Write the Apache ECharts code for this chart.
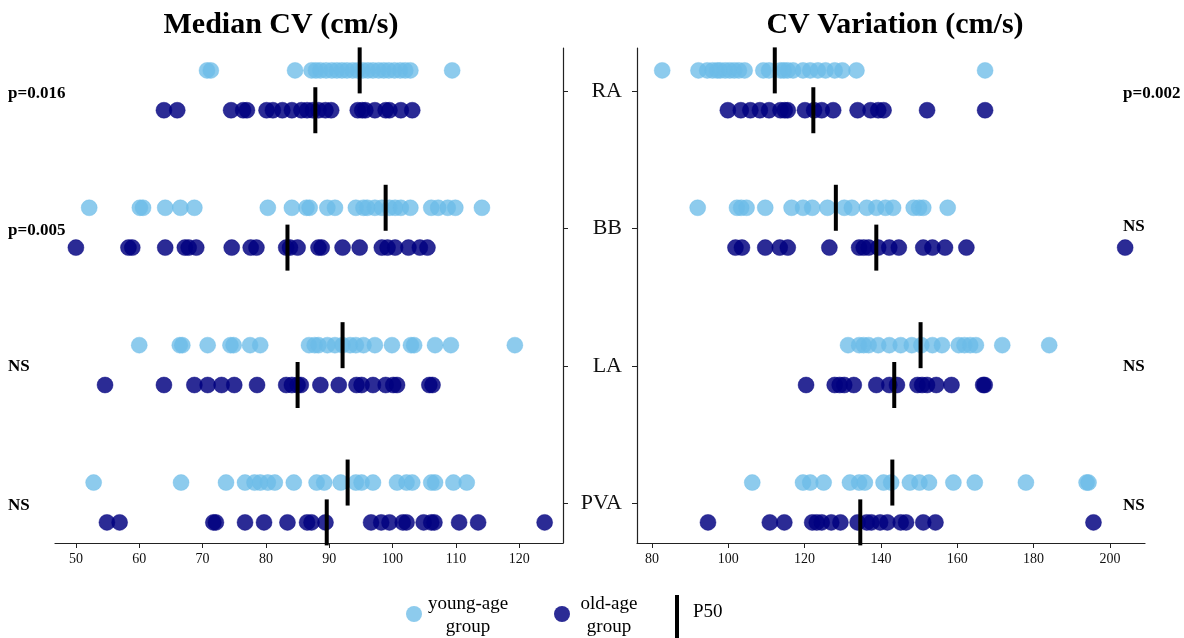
<!DOCTYPE html>
<html>
<head>
<meta charset="utf-8">
<script src="https://cdn.jsdelivr.net/npm/echarts@6/dist/echarts.min.js"></script>
<style>
  html, body { margin: 0; padding: 0; background: #fff; }
  #chart { width: 1184px; height: 638px; }
</style>
</head>
<body>
<div id="chart"></div>
<script>
/* data */
var rows = ['RA', 'BB', 'LA', 'PVA'];
var rowPos = [3, 2, 1, 0];

var leftTicks = [50, 60, 70, 80, 90, 100, 110, 120];
var rightTicks = [80, 100, 120, 140, 160, 180, 200];

// Median CV (cm/s)
var medYoung = [
  [70.7, 71.3, 84.6, 87.2, 87.9, 88.6, 89.5, 90.4, 91.2, 92.0, 92.8, 93.7, 94.5, 95.3, 96.1, 96.9, 97.8, 98.6, 99.4, 100.3, 101.2, 102.0, 102.8, 109.4],
  [52.1, 60.1, 60.6, 64.1, 66.5, 68.7, 80.3, 84.1, 86.4, 86.9, 89.7, 90.9, 94.2, 95.4, 96.0, 97.2, 98.3, 99.5, 100.4, 101.3, 102.8, 106.1, 107.2, 108.7, 109.9, 114.1],
  [60.0, 66.4, 66.8, 70.8, 74.4, 74.9, 77.5, 79.1, 86.8, 87.7, 88.3, 89.7, 90.9, 92.1, 93.3, 94.2, 95.4, 97.2, 99.9, 102.9, 103.4, 106.7, 109.2, 119.3],
  [52.8, 66.6, 73.7, 76.7, 78.2, 79.1, 80.3, 81.4, 84.4, 88.0, 89.2, 91.8, 94.2, 95.1, 96.9, 100.7, 102.2, 103.1, 106.1, 106.7, 109.6, 111.7]
];
var medOld = [
  [63.9, 66.0, 74.5, 76.4, 77.0, 80.1, 81.1, 82.6, 84.1, 85.6, 86.5, 87.4, 88.3, 89.4, 90.3, 94.5, 95.2, 95.7, 97.2, 98.9, 99.5, 101.3, 103.1],
  [50.0, 58.3, 58.9, 64.1, 67.2, 67.8, 69.0, 74.6, 77.6, 78.5, 83.2, 83.8, 85.0, 88.3, 88.8, 92.1, 94.8, 98.3, 99.2, 100.4, 102.5, 104.3, 105.5],
  [54.6, 63.9, 68.7, 70.8, 73.0, 75.0, 78.6, 83.2, 84.1, 85.0, 85.5, 88.6, 91.5, 94.3, 95.1, 96.9, 98.9, 100.1, 100.7, 105.8, 106.3],
  [54.9, 56.9, 71.7, 72.1, 76.7, 79.7, 83.4, 86.5, 87.2, 89.4, 96.6, 98.2, 99.5, 101.6, 102.2, 104.9, 106.1, 106.6, 110.5, 113.5, 124.0]
];
var medYoungP50 = [94.8, 98.9, 92.1, 92.9];
var medOldP50 = [87.8, 83.4, 85.0, 89.6];

// CV Variation (cm/s)
var varYoung = [
  [82.7, 92.2, 94.5, 95.9, 97.1, 97.9, 99.2, 100.4, 101.6, 102.8, 104.3, 109.2, 110.7, 113.7, 114.6, 115.6, 117.0, 119.6, 121.5, 123.5, 125.5, 127.9, 129.9, 133.6, 167.3],
  [92.0, 102.3, 103.4, 104.8, 109.7, 116.6, 119.6, 122.0, 126.0, 130.4, 132.4, 136.3, 138.8, 141.2, 143.2, 148.6, 150.0, 151.1, 157.5],
  [131.4, 134.3, 135.5, 136.8, 139.3, 142.2, 145.2, 148.1, 150.6, 153.5, 156.0, 160.4, 161.9, 163.4, 164.9, 171.8, 184.1],
  [106.3, 119.6, 121.5, 125.0, 131.9, 134.3, 135.8, 140.7, 142.7, 147.6, 150.1, 152.6, 159.0, 164.6, 178.0, 193.9, 194.4]
];
var varOld = [
  [99.9, 103.3, 105.8, 108.3, 110.7, 113.7, 114.8, 115.6, 120.1, 122.5, 124.5, 127.5, 133.9, 137.3, 139.3, 140.7, 152.1, 167.3],
  [101.9, 103.6, 109.7, 113.5, 115.6, 126.5, 134.3, 135.5, 136.8, 139.3, 142.2, 144.7, 151.1, 153.5, 156.8, 162.4, 204.0],
  [120.4, 127.9, 129.2, 130.4, 132.9, 138.8, 142.2, 144.2, 149.6, 150.8, 152.1, 154.5, 158.5, 166.8, 167.2],
  [94.7, 110.9, 114.7, 122.0, 123.2, 124.5, 127.0, 129.4, 133.9, 136.3, 137.5, 139.8, 141.7, 145.2, 146.6, 151.1, 154.3, 195.7]
];
var varYoungP50 = [112.2, 128.2, 150.4, 143.0];
var varOldP50 = [122.3, 138.8, 143.5, 134.6];

var leftNotes = ['p=0.016', 'p=0.005', 'NS', 'NS'];
var rightNotes = ['p=0.002', 'NS', 'NS', 'NS'];

/* styles */
var FONT = 'Liberation Serif';
var YOUNG = '#6dbde8';
var OLD = '#000080';
var youngOff = 0.15, oldOff = -0.14;

function dots(groups, off) {
  var out = [];
  for (var r = 0; r < groups.length; r++) {
    for (var i = 0; i < groups[r].length; i++) {
      out.push([groups[r][i], rowPos[r] + off]);
    }
  }
  return out;
}
function p50(meds, off) {
  return meds.map(function (m, r) { return [m, rowPos[r] + off]; });
}

function xAxisOpt(idx, min, max, ticks) {
  return {
    gridIndex: idx, type: 'value', min: min, max: max, position: 'bottom',
    axisLine: { show: true, onZero: false, lineStyle: { color: '#222', width: 1.2 } },
    axisTick: { show: true, length: 5, customValues: ticks, lineStyle: { color: '#222' } },
    axisLabel: { customValues: ticks, color: '#111', fontFamily: FONT, fontSize: 14, margin: 9 },
    splitLine: { show: false }
  };
}
function yAxisOpt(idx, pos, showLabel) {
  return {
    gridIndex: idx, type: 'value', min: -0.29, max: 3.313, position: pos,
    axisLine: { show: true, onZero: false, lineStyle: { color: '#222', width: 1.2 } },
    axisTick: { show: true, length: 5, customValues: rowPos, lineStyle: { color: '#222' } },
    axisLabel: {
      show: showLabel, customValues: rowPos, color: '#111', fontFamily: FONT, fontSize: 22, margin: 15,
      formatter: function (v) { return rows[rowPos.indexOf(Math.round(v))]; }
    },
    splitLine: { show: false }
  };
}
function dotSeries(idx, data, color) {
  return {
    type: 'scatter', xAxisIndex: idx, yAxisIndex: idx, data: data,
    symbolSize: 16, z: 2,
    itemStyle: { color: color, opacity: color === OLD ? 0.83 : 0.78, borderColor: color, borderWidth: 0.5 }
  };
}
function barSeries(idx, data) {
  return {
    type: 'scatter', xAxisIndex: idx, yAxisIndex: idx, data: data,
    symbol: 'rect', symbolSize: [4, 46], z: 5,
    itemStyle: { color: '#000', opacity: 1 }
  };
}

var chart = echarts.init(document.getElementById('chart'));
chart.setOption({
  animation: false,
  tooltip: { show: false },
  grid: [
    { left: 55, top: 48, width: 508, height: 495 },
    { left: 637, top: 48, width: 508, height: 495 }
  ],
  xAxis: [xAxisOpt(0, 46.7, 126.9, leftTicks), xAxisOpt(1, 76.1, 209.2, rightTicks)],
  yAxis: [yAxisOpt(0, 'right', false), yAxisOpt(1, 'left', true)],
  series: [
    dotSeries(0, dots(medYoung, youngOff), YOUNG),
    dotSeries(0, dots(medOld, oldOff), OLD),
    barSeries(0, p50(medYoungP50, youngOff)),
    barSeries(0, p50(medOldP50, oldOff)),
    dotSeries(1, dots(varYoung, youngOff), YOUNG),
    dotSeries(1, dots(varOld, oldOff), OLD),
    barSeries(1, p50(varYoungP50, youngOff)),
    barSeries(1, p50(varOldP50, oldOff))
  ]
});

/* titles, notes and legend */
var g = [
  { type: 'text', x: 281, y: 25, style: { text: 'Median CV (cm/s)', font: 'bold 30px "' + FONT + '"', fill: '#000', textAlign: 'center', verticalAlign: 'middle' } },
  { type: 'text', x: 895, y: 25, style: { text: 'CV Variation (cm/s)', font: 'bold 30px "' + FONT + '"', fill: '#000', textAlign: 'center', verticalAlign: 'middle' } }
];
var noteShift = [3, 2, 1, 2];
for (var r = 0; r < rows.length; r++) {
  var py = chart.convertToPixel({ yAxisIndex: 0 }, rowPos[r]);
  g.push({ type: 'text', x: 8, y: py + noteShift[r], style: { text: leftNotes[r], font: 'bold 17px "' + FONT + '"', fill: '#000', verticalAlign: 'middle' } });
  g.push({ type: 'text', x: 1123, y: py + noteShift[r] + (r === 1 ? -4 : 0), style: { text: rightNotes[r], font: 'bold 17px "' + FONT + '"', fill: '#000', verticalAlign: 'middle' } });
}
g.push(
  { type: 'circle', shape: { cx: 414, cy: 614, r: 8 }, style: { fill: YOUNG, opacity: 0.78 } },
  { type: 'text', x: 468, y: 616, style: { text: 'young-age\ngroup', font: '19px "' + FONT + '"', fill: '#000', textAlign: 'center', verticalAlign: 'middle', lineHeight: 23 } },
  { type: 'circle', shape: { cx: 562, cy: 614, r: 8 }, style: { fill: OLD, opacity: 0.83 } },
  { type: 'text', x: 609, y: 616, style: { text: 'old-age\ngroup', font: '19px "' + FONT + '"', fill: '#000', textAlign: 'center', verticalAlign: 'middle', lineHeight: 23 } },
  { type: 'rect', shape: { x: 675, y: 595, width: 4, height: 43 }, style: { fill: '#000' } },
  { type: 'text', x: 693, y: 612, style: { text: 'P50', font: '19px "' + FONT + '"', fill: '#000', verticalAlign: 'middle' } }
);
chart.setOption({ graphic: g });
</script>
</body>
</html>
